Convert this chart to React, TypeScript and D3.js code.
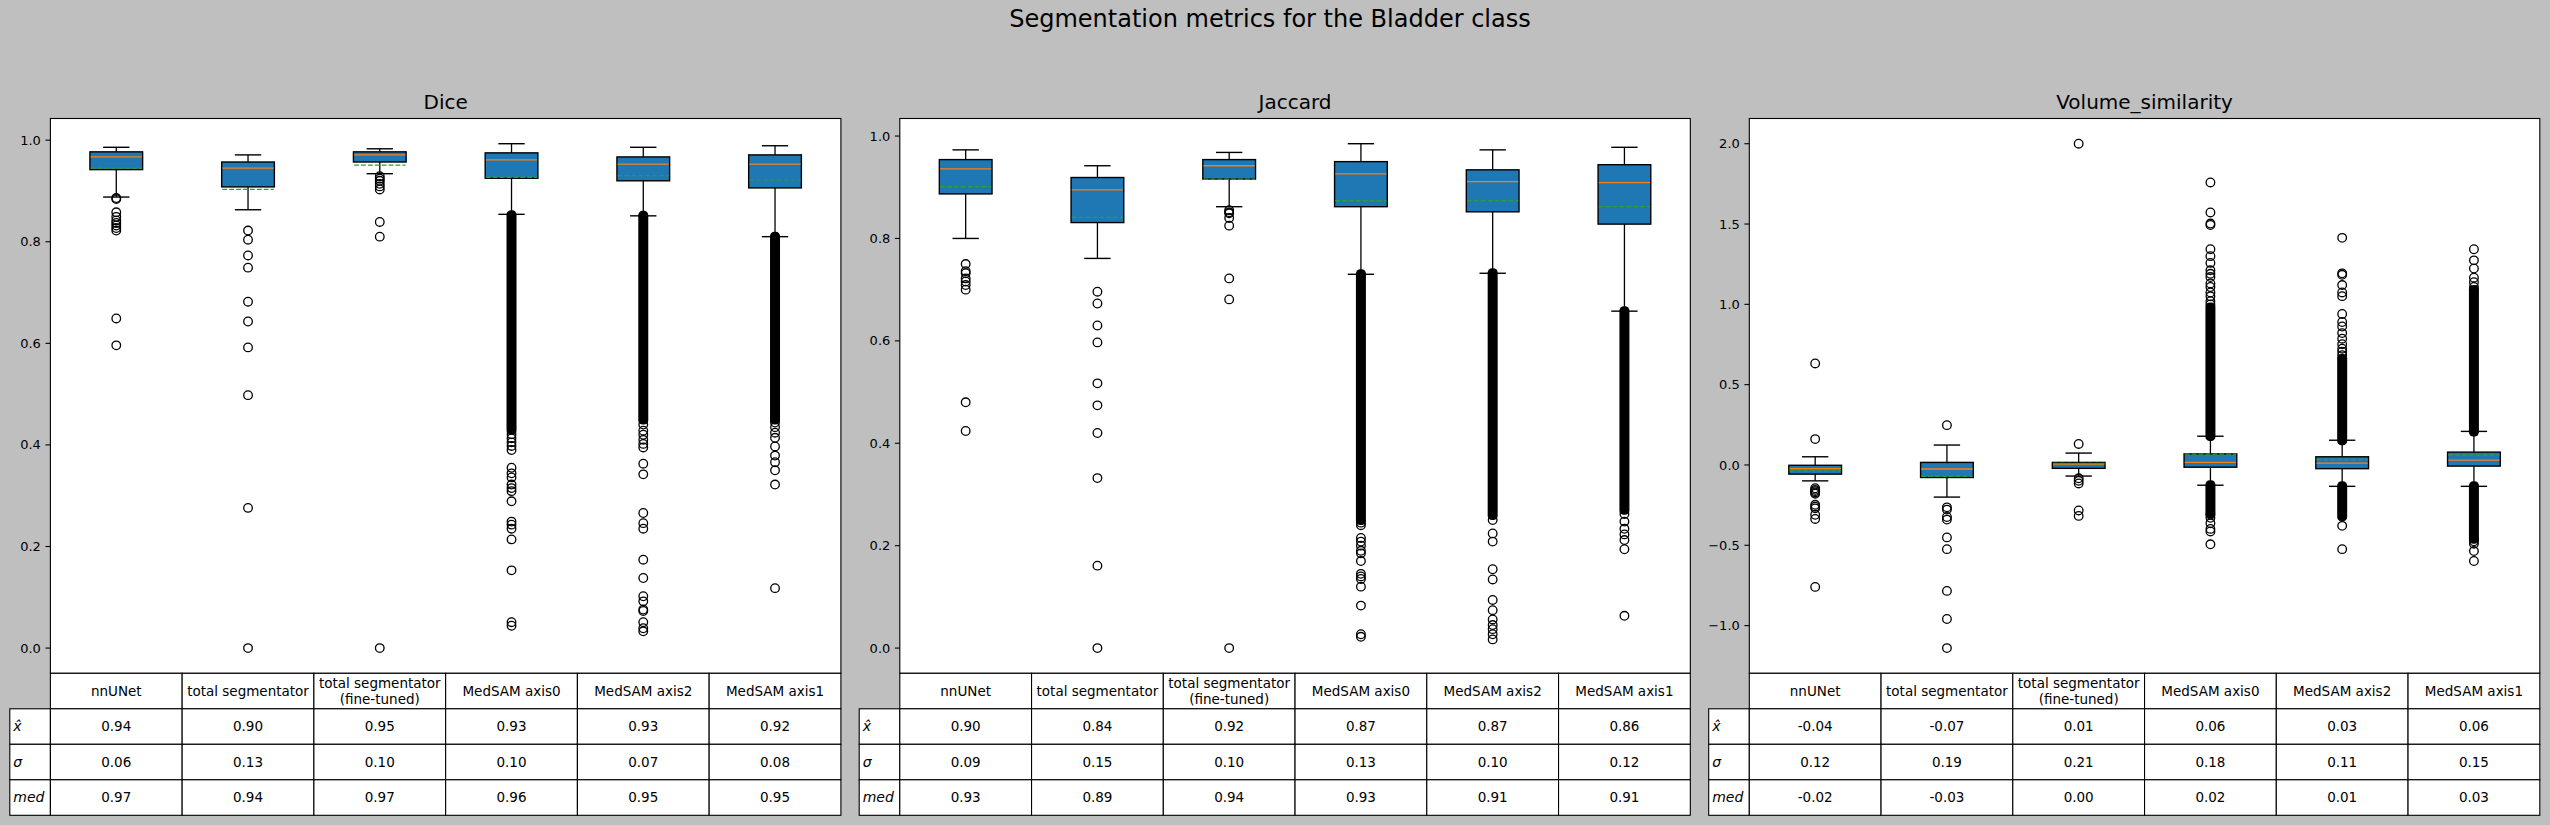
import React from "react";
import * as d3 from "d3";

const W = 2550;
const H = 825;
const FONT = "DejaVu Sans";

const models = [
  ["nnUNet"],
  ["total segmentator"],
  ["total segmentator", "(fine-tuned)"],
  ["MedSAM axis0"],
  ["MedSAM axis2"],
  ["MedSAM axis1"],
];
const rowLabels = ["x\u0302", "\u03c3", "med"];

// box stats: [lower whisker, q1, median, q3, upper whisker]
const diceBoxes = [
  [0.888, 0.942, 0.967, 0.977, 0.986],
  [0.863, 0.908, 0.945, 0.957, 0.971],
  [0.934, 0.957, 0.971, 0.977, 0.983],
  [0.854, 0.925, 0.961, 0.975, 0.993],
  [0.851, 0.92, 0.953, 0.967, 0.986],
  [0.81, 0.906, 0.953, 0.971, 0.989],
];
const diceMeans = [0.945, 0.903, 0.951, 0.927, 0.93, 0.922];
const diceFliers = [
  [0.886, 0.884, 0.858, 0.849, 0.842, 0.837, 0.832, 0.827, 0.822, 0.649, 0.596],
  [0.822, 0.804, 0.773, 0.749, 0.682, 0.643, 0.592, 0.498, 0.276, 0.0],
  [0.929, 0.924, 0.92, 0.914, 0.909, 0.903, 0.839, 0.81, 0.0],
  [0.421, 0.413, 0.405, 0.398, 0.39, 0.355, 0.344, 0.336, 0.322, 0.315, 0.309, 0.289,
   0.249, 0.243, 0.235, 0.214, 0.153, 0.051, 0.044],
  [0.44, 0.428, 0.42, 0.41, 0.402, 0.395, 0.363, 0.342, 0.266, 0.246, 0.235, 0.174,
   0.138, 0.102, 0.092, 0.076, 0.073, 0.051, 0.039, 0.033],
  [0.444, 0.435, 0.424, 0.414, 0.397, 0.379, 0.366, 0.35, 0.322, 0.118],
];
// spans where outliers overlap into a solid column: [low, high]
const diceDense = [[], [], [], [[0.43, 0.852]], [[0.45, 0.851]], [[0.45, 0.81]]];
const diceMeanRow = ["0.94", "0.90", "0.95", "0.93", "0.93", "0.92"];
const diceStdRow = ["0.06", "0.13", "0.10", "0.10", "0.07", "0.08"];
const diceMedRow = ["0.97", "0.94", "0.97", "0.96", "0.95", "0.95"];

const jaccardBoxes = [
  [0.8, 0.887, 0.936, 0.954, 0.973],
  [0.761, 0.831, 0.895, 0.919, 0.942],
  [0.862, 0.916, 0.942, 0.954, 0.968],
  [0.73, 0.862, 0.926, 0.95, 0.985],
  [0.732, 0.852, 0.911, 0.934, 0.973],
  [0.658, 0.828, 0.909, 0.944, 0.978],
];
const jaccardMeans = [0.901, 0.841, 0.916, 0.874, 0.874, 0.862];
const jaccardFliers = [
  [0.75, 0.736, 0.732, 0.722, 0.716, 0.709, 0.7, 0.48, 0.424],
  [0.696, 0.673, 0.63, 0.597, 0.517, 0.474, 0.42, 0.332, 0.161, 0.0],
  [0.855, 0.851, 0.849, 0.84, 0.825, 0.722, 0.681, 0.0],
  [0.245, 0.24, 0.215, 0.208, 0.2, 0.19, 0.185, 0.17, 0.145, 0.14, 0.135, 0.12, 0.083,
   0.027, 0.022],
  [0.25, 0.224, 0.208, 0.154, 0.134, 0.094, 0.074, 0.056, 0.045, 0.037, 0.027, 0.017],
  [0.262, 0.247, 0.233, 0.222, 0.211, 0.193, 0.063],
];
const jaccardDense = [[], [], [], [[0.25, 0.73]], [[0.26, 0.732]], [[0.27, 0.658]]];
const jaccardMeanRow = ["0.90", "0.84", "0.92", "0.87", "0.87", "0.86"];
const jaccardStdRow = ["0.09", "0.15", "0.10", "0.13", "0.10", "0.12"];
const jaccardMedRow = ["0.93", "0.89", "0.94", "0.93", "0.91", "0.91"];

const volBoxes = [
  [-0.099, -0.057, -0.023, -0.002, 0.051],
  [-0.2, -0.078, -0.025, 0.016, 0.124],
  [-0.069, -0.021, 0.005, 0.016, 0.074],
  [-0.126, -0.014, 0.016, 0.069, 0.179],
  [-0.133, -0.023, 0.011, 0.051, 0.154],
  [-0.133, -0.007, 0.03, 0.08, 0.209],
];
const volMeans = [-0.037, -0.071, 0.009, 0.067, 0.034, 0.062];
const volFliers = [
  [0.632, 0.161, -0.145, -0.155, -0.163, -0.171, -0.179, -0.248, -0.26, -0.27, -0.31, -0.336, -0.759],
  [0.248, -0.264, -0.278, -0.324, -0.34, -0.451, -0.524, -0.784, -0.959, -1.14],
  [2.0, 0.131, -0.083, -0.099, -0.115, -0.283, -0.317],
  [1.0, 1.02, 1.05, 1.074, 1.108, 1.13, 1.17, 1.19, 1.212, 1.258, 1.3, 1.343, 1.494, 1.503,
   1.572, 1.759, -0.31, -0.329, -0.363, -0.398, -0.414, -0.494],
  [0.683, 0.705, 0.724, 0.752, 0.786, 0.821, 0.862, 0.89, 0.94, 1.051, 1.074, 1.12, 1.184,
   1.193, 1.414, -0.379, -0.524],
  [1.108, 1.138, 1.166, 1.223, 1.274, 1.343, -0.475, -0.49, -0.536, -0.598],
];
const volDense = [
  [], [], [],
  [[0.18, 0.98], [-0.3, -0.126]],
  [[0.154, 0.66], [-0.32, -0.133]],
  [[0.209, 1.09], [-0.46, -0.133]],
];
const volMeanRow = ["-0.04", "-0.07", "0.01", "0.06", "0.03", "0.06"];
const volStdRow = ["0.12", "0.19", "0.21", "0.18", "0.11", "0.15"];
const volMedRow = ["-0.02", "-0.03", "0.00", "0.02", "0.01", "0.03"];

const diceTicks = [0, 0.2, 0.4, 0.6, 0.8, 1.0];
const volTicks = [-1.0, -0.5, 0, 0.5, 1.0, 1.5, 2.0];

const BLUE = "#1f77b4";
const ORANGE = "#ff7f0e";
const GREEN = "#2ca02c";

const AX_TOP = 118.5;
const AX_BOTTOM = 673.3;
const AX_W = 790.5;
const ROW_H = 35.5;
const LABEL_W = 40.6;

function Panel({ left, title, boxes, means, fliers, dense, ticks, rows }: any) {
  const all = [...boxes.flat(), ...fliers.flat(), ...dense.flat(2)];
  const [mn, mx] = d3.extent(all) as [number, number];
  const pad = (mx - mn) * 0.05;
  const y = d3.scaleLinear().domain([mn - pad, mx + pad]).range([AX_BOTTOM, AX_TOP]);
  const x = d3.scaleLinear().domain([0.5, 6.5]).range([left, left + AX_W]);
  const fmt = (v: number) => d3.format(".1f")(v).replace("-", "\u2212");
  const bw = (x(1) - x(0)) * 0.4;
  const cw = bw / 2;
  const fr = 4.3;

  return (
    <g>
      <rect x={left} y={AX_TOP} width={AX_W} height={AX_BOTTOM - AX_TOP} fill="#fff" />
      <text x={left + AX_W / 2} y={109} textAnchor="middle" fontSize={20} fill="#000">
        {title}
      </text>
      {ticks.map((t: number) => (
        <g key={t}>
          <line x1={left - 4.9} x2={left} y1={y(t)} y2={y(t)} stroke="#000" strokeWidth={1.1} />
          <text x={left - 9.5} y={y(t)} dy="0.35em" textAnchor="end" fontSize={13} fill="#000">
            {fmt(t)}
          </text>
        </g>
      ))}
      {boxes.map((b: number[], i: number) => {
        const cx = x(i + 1);
        const [lo, q1, med, q3, hi] = b;
        return (
          <g key={i}>
            {dense[i].map((d: number[], k: number) => (
              <rect key={k} x={cx - fr - 0.7} width={2 * fr + 1.4}
                y={y(d[1]) - fr - 0.7} height={y(d[0]) - y(d[1]) + 2 * fr + 1.4}
                rx={fr} fill="#000" />
            ))}
            {fliers[i].map((v: number, k: number) => (
              <circle key={k} cx={cx} cy={y(v)} r={fr} fill="none" stroke="#000" strokeWidth={1.3} />
            ))}
            <line x1={cx} x2={cx} y1={y(q1)} y2={y(lo)} stroke="#000" strokeWidth={1.3} />
            <line x1={cx} x2={cx} y1={y(q3)} y2={y(hi)} stroke="#000" strokeWidth={1.3} />
            <line x1={cx - cw / 2} x2={cx + cw / 2} y1={y(lo)} y2={y(lo)} stroke="#000" strokeWidth={1.4} />
            <line x1={cx - cw / 2} x2={cx + cw / 2} y1={y(hi)} y2={y(hi)} stroke="#000" strokeWidth={1.4} />
            <rect x={cx - bw / 2} width={bw} y={y(q3)} height={y(q1) - y(q3)}
              fill={BLUE} stroke="#000" strokeWidth={1.4} />
            <line x1={cx - bw / 2 + 0.7} x2={cx + bw / 2 - 0.7} y1={y(med)} y2={y(med)}
              stroke={ORANGE} strokeWidth={1.3} />
            <line x1={cx - bw / 2 + 0.7} x2={cx + bw / 2 - 0.7} y1={y(means[i])} y2={y(means[i])}
              stroke={GREEN} strokeWidth={1.3} strokeDasharray="4.8,2.1" />
          </g>
        );
      })}
      <rect x={left} y={AX_TOP} width={AX_W} height={AX_BOTTOM - AX_TOP}
        fill="none" stroke="#000" strokeWidth={1.1} />
      {/* table */}
      {models.map((m, i) => {
        const x0 = x(i + 0.5);
        const x1 = x(i + 1.5);
        const cy = AX_BOTTOM + ROW_H / 2;
        return (
          <g key={"h" + i}>
            <rect x={x0} y={AX_BOTTOM} width={x1 - x0} height={ROW_H} fill="#fff" stroke="#000" strokeWidth={1.1} />
            {m.map((line, k) => (
              <text key={k} x={(x0 + x1) / 2} y={cy + (k - (m.length - 1) / 2) * 15.5} dy="0.35em"
                textAnchor="middle" fontSize={13.5} fill="#000">{line}</text>
            ))}
          </g>
        );
      })}
      {rows.map((row: string[], r: number) => {
        const y0 = AX_BOTTOM + ROW_H * (r + 1);
        return (
          <g key={"r" + r}>
            <rect x={left - LABEL_W} y={y0} width={LABEL_W} height={ROW_H} fill="#fff" stroke="#000" strokeWidth={1.1} />
            <text x={left - LABEL_W + 3.5} y={y0 + ROW_H / 2} dy="0.35em" fontSize={14}
              fontStyle="italic" fill="#000">{rowLabels[r]}</text>
            {row.map((v, i) => {
              const x0 = x(i + 0.5);
              const x1 = x(i + 1.5);
              return (
                <g key={i}>
                  <rect x={x0} y={y0} width={x1 - x0} height={ROW_H} fill="#fff" stroke="#000" strokeWidth={1.1} />
                  <text x={(x0 + x1) / 2} y={y0 + ROW_H / 2} dy="0.35em" textAnchor="middle"
                    fontSize={13.5} fill="#000">{v}</text>
                </g>
              );
            })}
          </g>
        );
      })}
    </g>
  );
}

export default function App() {
  const lefts = [50.4, 899.8, 1749.3];
  return (
    <svg width={W} height={H} style={{ position: "absolute", left: 0, top: 0 }}
      fontFamily={FONT}>
      <rect width={W} height={H} fill="#bfbfbf" />
      <text x={W / 2 - 5} y={27} textAnchor="middle" fontSize={24} fill="#000">
        Segmentation metrics for the Bladder class
      </text>
      <Panel left={lefts[0]} title="Dice" boxes={diceBoxes} means={diceMeans}
        fliers={diceFliers} dense={diceDense} ticks={diceTicks}
        rows={[diceMeanRow, diceStdRow, diceMedRow]} />
      <Panel left={lefts[1]} title="Jaccard" boxes={jaccardBoxes} means={jaccardMeans}
        fliers={jaccardFliers} dense={jaccardDense} ticks={diceTicks}
        rows={[jaccardMeanRow, jaccardStdRow, jaccardMedRow]} />
      <Panel left={lefts[2]} title="Volume_similarity" boxes={volBoxes} means={volMeans}
        fliers={volFliers} dense={volDense} ticks={volTicks}
        rows={[volMeanRow, volStdRow, volMedRow]} />
    </svg>
  );
}
